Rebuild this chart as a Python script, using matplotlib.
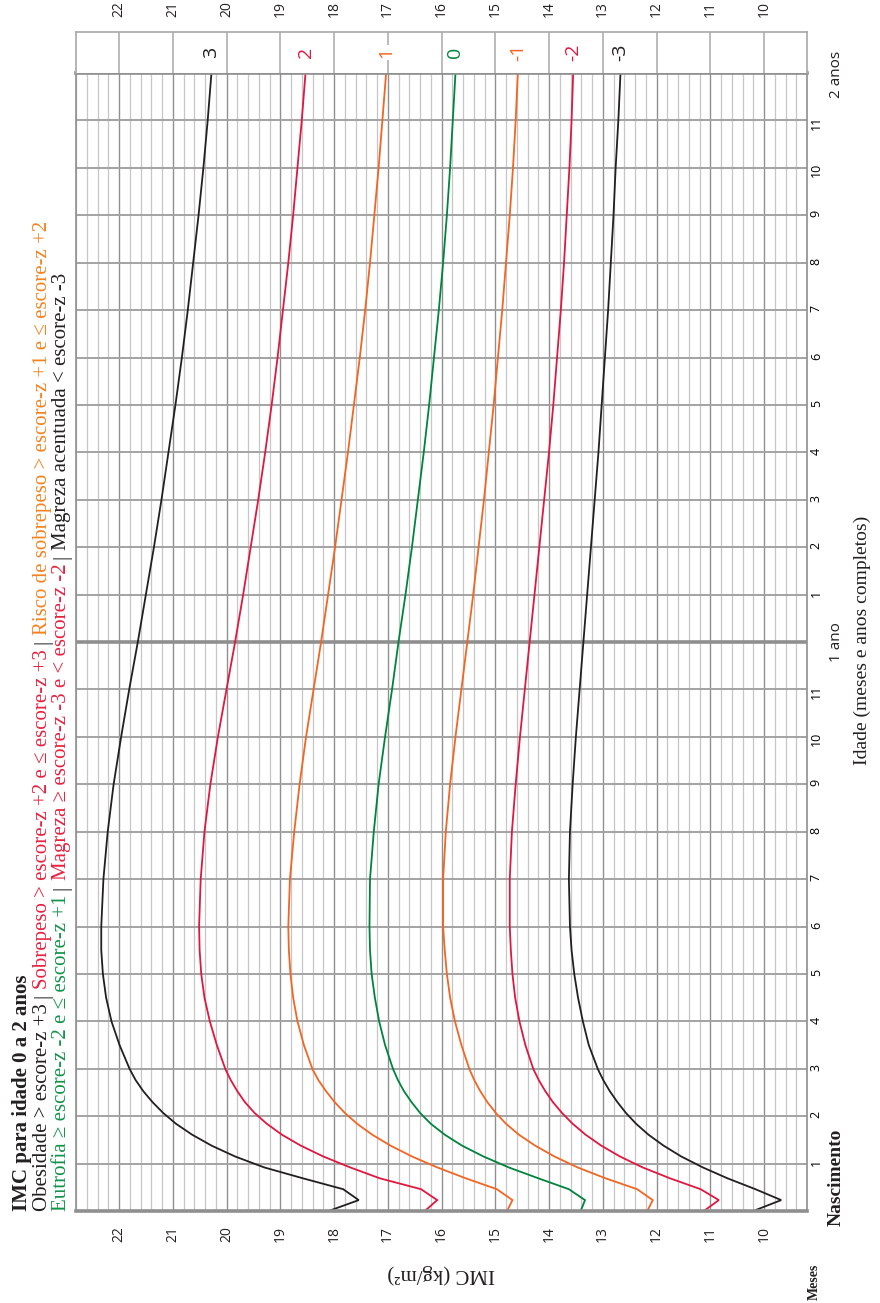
import matplotlib
matplotlib.use('Agg')
import matplotlib.pyplot as plt
import numpy as np

# Idades: semanas 0 a 13, depois meses (meio mes ate 6 meses)
semanas = list(range(14))
meses = [3.5, 4, 4.5, 5, 5.5, 6, 7, 8, 9, 10, 11, 12, 13, 14, 15, 16, 17, 18, 19, 20, 21, 22, 23, 24]

# IMC (kg/m2) por escore-z
z_p3 = [18.1, 17.54, 17.83, 18.58, 19.3, 19.84, 20.28, 20.64, 20.94, 21.18, 21.38, 21.55, 21.69, 21.8,
        21.99, 22.14, 22.24, 22.3, 22.33, 22.33, 22.29, 22.21, 22.1, 21.96, 21.81, 21.65, 21.5, 21.35,
        21.21, 21.08, 20.95, 20.83, 20.72, 20.62, 20.52, 20.43, 20.35, 20.28]
z_p2 = [16.31, 16.08, 16.38, 17.15, 17.7, 18.2, 18.62, 18.97, 19.25, 19.48, 19.66, 19.8, 19.92, 20.02,
        20.18, 20.31, 20.41, 20.47, 20.5, 20.51, 20.48, 20.41, 20.3, 20.16, 20.0, 19.84, 19.69, 19.55,
        19.41, 19.28, 19.16, 19.05, 18.95, 18.85, 18.76, 18.68, 18.6, 18.53]
z_p1 = [14.78, 14.68, 14.97, 15.55, 16.08, 16.55, 16.95, 17.29, 17.57, 17.8, 17.99, 18.15, 18.29, 18.4,
        18.56, 18.68, 18.76, 18.81, 18.84, 18.85, 18.82, 18.74, 18.64, 18.52, 18.38, 18.24, 18.11, 17.98,
        17.86, 17.74, 17.63, 17.52, 17.42, 17.33, 17.25, 17.17, 17.1, 17.03]
z_0 = [13.41, 13.33, 13.63, 14.2, 14.75, 15.22, 15.62, 15.94, 16.2, 16.4, 16.56, 16.7, 16.81, 16.9,
       17.05, 17.16, 17.24, 17.3, 17.33, 17.34, 17.33, 17.26, 17.17, 17.05, 16.92, 16.8, 16.67, 16.55,
       16.44, 16.33, 16.23, 16.14, 16.05, 15.97, 15.9, 15.84, 15.79, 15.74]
z_m1 = [12.17, 12.07, 12.36, 12.95, 13.47, 13.9, 14.26, 14.56, 14.8, 14.99, 15.15, 15.28, 15.39, 15.48,
        15.63, 15.75, 15.84, 15.9, 15.94, 15.97, 15.97, 15.92, 15.84, 15.74, 15.63, 15.52, 15.41, 15.31,
        15.21, 15.12, 15.03, 14.95, 14.87, 14.8, 14.73, 14.67, 14.62, 14.58]
z_m2 = [11.12, 10.84, 11.18, 11.75, 12.26, 12.68, 13.03, 13.32, 13.56, 13.76, 13.93, 14.07, 14.19, 14.29,
        14.44, 14.55, 14.63, 14.68, 14.71, 14.73, 14.73, 14.69, 14.62, 14.54, 14.45, 14.36, 14.27, 14.18,
        14.09, 14.0, 13.92, 13.85, 13.78, 13.72, 13.67, 13.62, 13.58, 13.55]
z_m3 = [10.2, 9.68, 10.16, 10.68, 11.14, 11.54, 11.87, 12.15, 12.38, 12.57, 12.73, 12.87, 12.99, 13.09,
        13.26, 13.37, 13.46, 13.53, 13.58, 13.61, 13.63, 13.61, 13.56, 13.5, 13.43, 13.36, 13.29, 13.22,
        13.15, 13.08, 13.02, 12.96, 12.9, 12.85, 12.8, 12.76, 12.71, 12.67]

curvas = [z_p3, z_p2, z_p1, z_0, z_m1, z_m2, z_m3]
rotulos = ['3', '2', '1', '0', '-1', '-2', '-3']
cores = ['#231f20', '#e0173f', '#f26522', '#00843d', '#f26522', '#e0173f', '#231f20']

imc_ticks = list(range(10, 23))
meses_labels = [''] + [str(m) for m in range(1, 12)] + [''] + [str(m) for m in range(1, 12)] + ['']

idade = [s * 7 / 30.4375 for s in semanas] + meses

W, H = 880, 1303
fig = plt.figure(figsize=(W / 100, H / 100), dpi=100)


def rect(x0, y0, x1, y1):
    # caixa em pixels (origem no topo) -> fracao da figura
    return [x0 / W, 1 - y1 / H, (x1 - x0) / W, (y1 - y0) / H]


sans = ['Open Sans', 'DejaVu Sans']
serif = ['Liberation Serif', 'DejaVu Serif']
cinza = '#8f8f8f'

# Grafico principal (rodado: IMC na horizontal, idade na vertical)
ax = fig.add_axes(rect(76, 73, 807, 1211))
ax.set_xlim(22.8, 9.2)
ax.set_ylim(0, 24)
ax.set_xticks(imc_ticks)
ax.set_xticks(np.arange(9.2, 22.81, 0.2), minor=True)
ax.set_yticks(range(25))
ax.set_yticklabels(meses_labels)
ax.grid(which='minor', axis='x', color='#c6c6c6', lw=0.9)
ax.grid(which='major', axis='x', color=cinza, lw=1.0)
ax.grid(which='major', axis='y', color='#a3a3a3', lw=1.4)
ax.axhline(12, color=cinza, lw=2.6)
ax.tick_params(axis='x', which='both', length=0, labelrotation=90, pad=11,
               labelsize=10, labelcolor='#231f20')
ax.tick_params(axis='y', which='both', length=0, left=False, labelleft=False,
               right=True, labelright=True, labelrotation=90, pad=2, labelsize=9)
for lab in ax.get_xticklabels() + ax.get_yticklabels():
    lab.set_fontfamily(sans)
ax.set_axisbelow(True)
for s in ['left', 'right']:
    ax.spines[s].set_color(cinza)
    ax.spines[s].set_linewidth(1.2)
ax.spines['bottom'].set_color(cinza)
ax.spines['bottom'].set_linewidth(2.6)
ax.spines['top'].set_color(cinza)
ax.spines['top'].set_linewidth(2.6)

for vals, cor in zip(curvas, cores):
    ax.plot(vals, idade, color=cor, lw=1.3, solid_joinstyle='miter')

# Faixa superior com os rotulos dos escores-z
ax2 = fig.add_axes(rect(76, 32, 807, 73))
ax2.set_xlim(22.8, 9.2)
ax2.set_ylim(0, 1)
ax2.set_xticks(imc_ticks)
ax2.set_yticks([])
ax2.grid(which='major', axis='x', color='#a8a8a8', lw=1.1)
ax2.set_axisbelow(True)
ax2.tick_params(axis='x', length=0, bottom=False, labelbottom=False, top=True, labeltop=True,
                labelrotation=90, pad=11, labelsize=10, labelcolor='#231f20')
for lab in ax2.get_xticklabels():
    lab.set_fontfamily(sans)
for s in ['left', 'right', 'top']:
    ax2.spines[s].set_color('#a8a8a8')
    ax2.spines[s].set_linewidth(1.2)
ax2.spines['bottom'].set_visible(False)
for vals, lab, cor in zip(curvas, rotulos, cores):
    ax2.text(vals[-1], 0.5, lab, rotation=90, ha='center', va='center', color=cor,
             fontsize=14, family=sans,
             bbox=dict(facecolor='white', edgecolor='none', pad=1.5))


def px(x, y):
    return x / W, 1 - y / H


# Textos do eixo de idade
fig.text(*px(836, 642), '1 ano', rotation=90, ha='center', va='center', fontsize=11,
         family=sans, color='#231f20')
fig.text(*px(836, 74), '2 anos', rotation=90, ha='center', va='center', fontsize=11,
         family=sans, color='#231f20')
fig.text(*px(862, 640), 'Idade (meses e anos completos)', rotation=90, ha='center', va='center',
         fontsize=14, family=serif, color='#231f20')
fig.text(*px(836, 1226), 'Nascimento', rotation=90, ha='center', va='bottom', fontsize=14,
         family=serif, weight='bold', color='#231f20')
fig.text(*px(814, 1282), 'Meses', rotation=90, ha='center', va='center', fontsize=10,
         family=serif, weight='bold', color='#231f20')
fig.text(*px(441, 1274), 'IMC (kg/m²)', rotation=180, ha='center', va='center', fontsize=15,
         family=serif, color='#231f20')

# Titulo e legendas coloridas (texto rodado, montado por partes)
renderer = fig.canvas.get_renderer()


def linha(x, y, partes, **kw):
    for txt, cor in partes:
        t = fig.text(*px(x, y), txt, rotation=90, rotation_mode='anchor', ha='left',
                     va='baseline', color=cor, **kw)
        y -= t.get_window_extent(renderer).height + 5


preto, verm, lar, verde = '#231f20', '#e8213f', '#f58220', '#13934a'
linha(27, 1211, [('IMC para idade 0 a 2 anos', preto)], fontsize=15, family=serif, weight='bold')
linha(47, 1211, [('Obesidade > escore-z +3', preto), ('|', preto),
                 ('Sobrepeso > escore-z +2 e ≤ escore-z +3', verm), ('|', preto),
                 ('Risco de sobrepeso > escore-z +1 e ≤ escore-z +2', lar)],
      fontsize=15, family=serif)
linha(66, 1211, [('Eutrofia ≥ escore-z -2 e ≤ escore-z +1', verde), ('|', preto),
                 ('Magreza ≥ escore-z -3 e < escore-z -2', verm), ('|', preto),
                 ('Magreza acentuada < escore-z -3', preto)],
      fontsize=15, family=serif)

fig.savefig('out.png', dpi=100)
